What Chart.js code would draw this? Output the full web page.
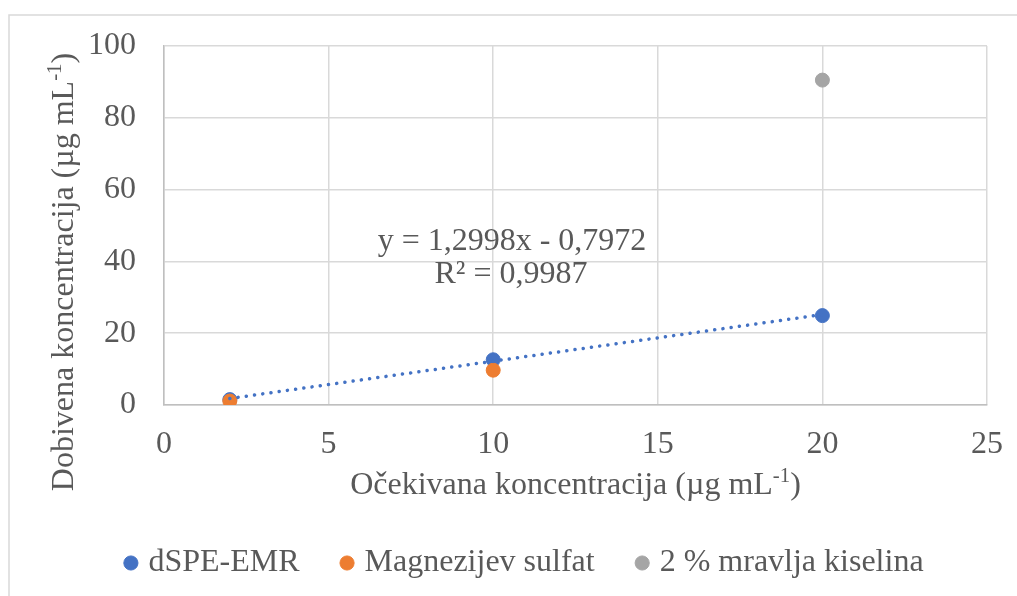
<!DOCTYPE html>
<html>
<head>
<meta charset="utf-8">
<script src="https://cdn.jsdelivr.net/npm/chart.js@4.4.1/dist/chart.umd.min.js"></script>
<style>
  html, body { margin: 0; padding: 0; background: #fff; }
  #wrap { width: 1017px; height: 596px; position: relative; }
</style>
</head>
<body>
<div id="wrap"><canvas id="myChart" width="1017" height="596"></canvas></div>
<script>
// data
const seriesNames = ['dSPE-EMR', 'Magnezijev sulfat', '2 % mravlja kiselina'];
const emrX = [2, 10, 20];
const emrY = [1.5, 12.6, 24.9];
const mgX = [2, 10];
const mgY = [1.1, 9.7];
const acidX = [20];
const acidY = [90.5];
const trendSlope = 1.2998;
const trendIntercept = -0.7972;
const trendX = [2, 20];
const xTicks = [0, 5, 10, 15, 20, 25];
const yTicks = [0, 20, 40, 60, 80, 100];

const FONT = '"Liberation Serif", "Times New Roman", serif';
const TXT = '#595959';
const SIZE = 32;

function pts(xs, ys) {
    return xs.map((x, i) => ({x: x, y: ys[i]}));
}

// draw text with a raised part, e.g. mL^-1
function drawRich(ctx, parts, x, y, size, align) {
    ctx.textBaseline = 'alphabetic';
    ctx.textAlign = 'left';
    let total = 0;
    for (const p of parts) {
        ctx.font = (p.sup ? size * 0.65 : size) + 'px ' + FONT;
        p.w = ctx.measureText(p.t).width;
        total += p.w;
    }
    let cx = align === 'center' ? x - total / 2 : x;
    for (const p of parts) {
        ctx.font = (p.sup ? size * 0.65 : size) + 'px ' + FONT;
        ctx.fillText(p.t, cx, p.sup ? y - size * 0.36 : y);
        cx += p.w;
    }
}

const extras = {
    id: 'extras',
    afterLayout(chart) {
        // legend row sits a bit right of centre in the original
        chart.legend.left += 33;
        chart.legend.right += 33;
    },
    beforeDraw(chart) {
        const ctx = chart.ctx;
        ctx.save();
        ctx.strokeStyle = '#d9d9d9';
        ctx.lineWidth = 1.5;
        ctx.beginPath();
        ctx.moveTo(9, 596);
        ctx.lineTo(9, 15);
        ctx.lineTo(1017, 15);
        ctx.stroke();
        ctx.restore();
    },
    afterDraw(chart) {
        const ctx = chart.ctx;
        const area = chart.chartArea;
        ctx.save();
        ctx.fillStyle = TXT;
        // x title
        drawRich(ctx, [{t: 'Očekivana koncentracija (µg mL'}, {t: '-1', sup: true}, {t: ')'}],
            (area.left + area.right) / 2, 494, SIZE, 'center');
        // y title
        ctx.save();
        ctx.translate(73, 272);
        ctx.rotate(-Math.PI / 2);
        drawRich(ctx, [{t: 'Dobivena koncentracija (µg mL'}, {t: '-1', sup: true}, {t: ')'}],
            0, 0, SIZE, 'center');
        ctx.restore();
        // trendline label
        ctx.font = SIZE + 'px ' + FONT;
        ctx.textAlign = 'center';
        ctx.textBaseline = 'alphabetic';
        const eq = 'y = ' + trendSlope.toFixed(4).replace('.', ',') + 'x - ' +
            Math.abs(trendIntercept).toFixed(4).replace('.', ',');
        ctx.fillText(eq, 512, 250);
        ctx.fillText('R² = 0,9987', 511, 283);
        ctx.restore();
    }
};

const ctx = document.getElementById('myChart');
const myChart = new Chart(ctx, {
    type: 'scatter',
    data: {
        datasets: [{
            label: seriesNames[0],
            data: pts(emrX, emrY),
            backgroundColor: '#4472c4',
            borderColor: '#4472c4',
            pointRadius: 7,
            borderWidth: 1,
            order: 3
        }, {
            label: seriesNames[1],
            data: pts(mgX, mgY),
            backgroundColor: '#ed7d31',
            borderColor: '#ed7d31',
            pointRadius: 7,
            borderWidth: 1,
            order: 2
        }, {
            label: seriesNames[2],
            data: pts(acidX, acidY),
            backgroundColor: '#a5a5a5',
            borderColor: '#a5a5a5',
            pointRadius: 7,
            borderWidth: 1,
            order: 1
        }, {
            label: 'trend',
            type: 'line',
            data: trendX.map(x => ({x: x, y: trendSlope * x + trendIntercept})),
            borderColor: '#4472c4',
            borderWidth: 3.5,
            borderDash: [0.1, 8.2],
            borderCapStyle: 'round',
            pointRadius: 0,
            fill: false,
            order: 0
        }]
    },
    options: {
        responsive: false,
        animation: false,
        events: [],
        layout: {
            padding: {top: 46, right: 30, left: 0, bottom: 7}
        },
        plugins: {
            tooltip: {enabled: false},
            legend: {
                position: 'bottom',
                labels: {
                    usePointStyle: true,
                    pointStyle: 'circle',
                    boxWidth: 3,
                    boxHeight: 10,
                    padding: 46,
                    color: TXT,
                    font: {family: FONT, size: SIZE},
                    filter: item => item.text !== 'trend',
                    sort: (a, b) => a.datasetIndex - b.datasetIndex
                }
            }
        },
        scales: {
            x: {
                type: 'linear',
                min: 0,
                max: 25,
                afterBuildTicks: scale => { scale.ticks = xTicks.map(v => ({value: v})); },
                afterFit: scale => {
                    scale.height = 96;
                    scale.paddingLeft = 0;
                    scale.paddingRight = 0;
                },
                grid: {color: '#d9d9d9', lineWidth: 1.5, drawTicks: false},
                border: {color: '#bfbfbf', width: 1.5},
                ticks: {color: TXT, font: {family: FONT, size: SIZE}, padding: 20}
            },
            y: {
                min: 0,
                max: 100,
                afterBuildTicks: scale => { scale.ticks = yTicks.map(v => ({value: v})); },
                afterFit: scale => {
                    scale.width = 164;
                    scale.paddingTop = 0;
                    scale.paddingBottom = 0;
                },
                grid: {color: '#d9d9d9', lineWidth: 1.5, drawTicks: false},
                border: {color: '#bfbfbf', width: 1.5},
                ticks: {color: TXT, font: {family: FONT, size: SIZE}, padding: 28}
            }
        }
    },
    plugins: [extras]
});
</script>
</body>
</html>
